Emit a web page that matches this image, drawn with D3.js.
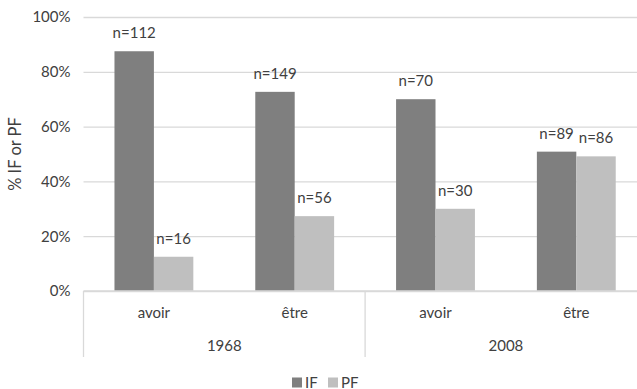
<!DOCTYPE html>
<html><head><meta charset="utf-8">
<script src="https://cdn.jsdelivr.net/npm/d3@7"></script>
<style>
html,body{margin:0;padding:0;background:#fff;overflow:hidden}
text{font-family:Lato,"Open Sans",sans-serif;fill:#404040}
</style></head>
<body><svg id="c" width="637" height="389"></svg>
<script>
const years = ["1968","2008"];
const verbs = ["avoir","être"];
const series = ["IF","PF"];
const ifCounts = [112,149,70,89];
const pfCounts = [16,56,30,86];
const yTicks = [0,0.2,0.4,0.6,0.8,1];
const colors = ["#7f7f7f","#bfbfbf"];

const cats = [];
years.forEach(y=>verbs.forEach(v=>cats.push({year:y,verb:v,key:y+"|"+v})));
cats.forEach((c,i)=>{
  const tot = ifCounts[i]+pfCounts[i];
  c.vals = [{s:"IF",n:ifCounts[i],v:ifCounts[i]/tot},{s:"PF",n:pfCounts[i],v:pfCounts[i]/tot}];
});

const svg = d3.select("#c");
const pL = 83.5, pR = 646.7, pT = 17, pB = 291;
const x = d3.scaleBand().domain(cats.map(c=>c.key)).range([pL,pR]).paddingInner(0.44).paddingOuter(0.22);
const xs = d3.scaleBand().domain(series).range([0,x.bandwidth()]);
const y = d3.scaleLinear().domain([0,1]).range([pB,pT]);

// gridlines
svg.append("g").attr("transform",`translate(${pL},0)`)
  .call(d3.axisLeft(y).tickValues(yTicks).tickSize(-(pR-pL)).tickFormat(""))
  .call(g=>g.select(".domain").remove())
  .call(g=>g.selectAll("line").attr("stroke","#d9d9d9").attr("stroke-width",1.3));

// y labels
svg.append("g").attr("transform",`translate(${pL},0)`)
  .call(d3.axisLeft(y).tickValues(yTicks).tickSize(0).tickPadding(13).tickFormat(d3.format(".0%")))
  .call(g=>g.select(".domain").remove())
  .call(g=>g.selectAll("text").style("font-family","Lato,sans-serif").style("font-size","15px").attr("fill","#404040"));

// bars
const grp = svg.append("g").selectAll("g").data(cats).join("g").attr("transform",c=>`translate(${x(c.key)},0)`);
grp.selectAll("rect").data(c=>c.vals).join("rect")
  .attr("x",d=>xs(d.s)).attr("width",xs.bandwidth())
  .attr("y",d=>y(d.v)).attr("height",d=>pB-y(d.v))
  .attr("fill",(d,i)=>colors[i]);
grp.selectAll("text").data(c=>c.vals).join("text")
  .attr("x",d=>xs(d.s)+xs.bandwidth()/2).attr("y",d=>y(d.v)-13)
  .attr("text-anchor","middle").style("font-size","15px").text(d=>"n="+d.n);

// axis lines
const ax = svg.append("g").attr("stroke","#d9d9d9").attr("stroke-width",1.3);
ax.append("line").attr("x1",pL).attr("x2",pR).attr("y1",pB).attr("y2",pB);
const step = x.step();
[0,2,4].forEach(k=>{
  const xx = pL + k*step;
  ax.append("line").attr("x1",xx).attr("x2",xx).attr("y1",pB).attr("y2",357);
});

// category labels
svg.append("g").selectAll("text").data(cats).join("text")
  .attr("x",c=>x(c.key)+x.bandwidth()/2).attr("y",318)
  .attr("text-anchor","middle").style("font-size","15px").text(c=>c.verb);
svg.append("g").selectAll("text").data(years).join("text")
  .attr("x",(d,i)=>pL+step*(2*i+1)).attr("y",351)
  .attr("text-anchor","middle").style("font-size","15px").text(d=>d);

// y title
svg.append("text").attr("transform","translate(21,154) rotate(-90)")
  .attr("text-anchor","middle").style("font-size","16.5px").text("% IF or PF");

// legend
const lg = svg.append("g");
const lx = [292,328];
series.forEach((s,i)=>{
  lg.append("rect").attr("x",lx[i]).attr("y",377.5).attr("width",10).attr("height",10).attr("fill",colors[i]);
  lg.append("text").attr("x",lx[i]+13).attr("y",387.5).style("font-size","15px").text(s);
});
</script></body></html>
